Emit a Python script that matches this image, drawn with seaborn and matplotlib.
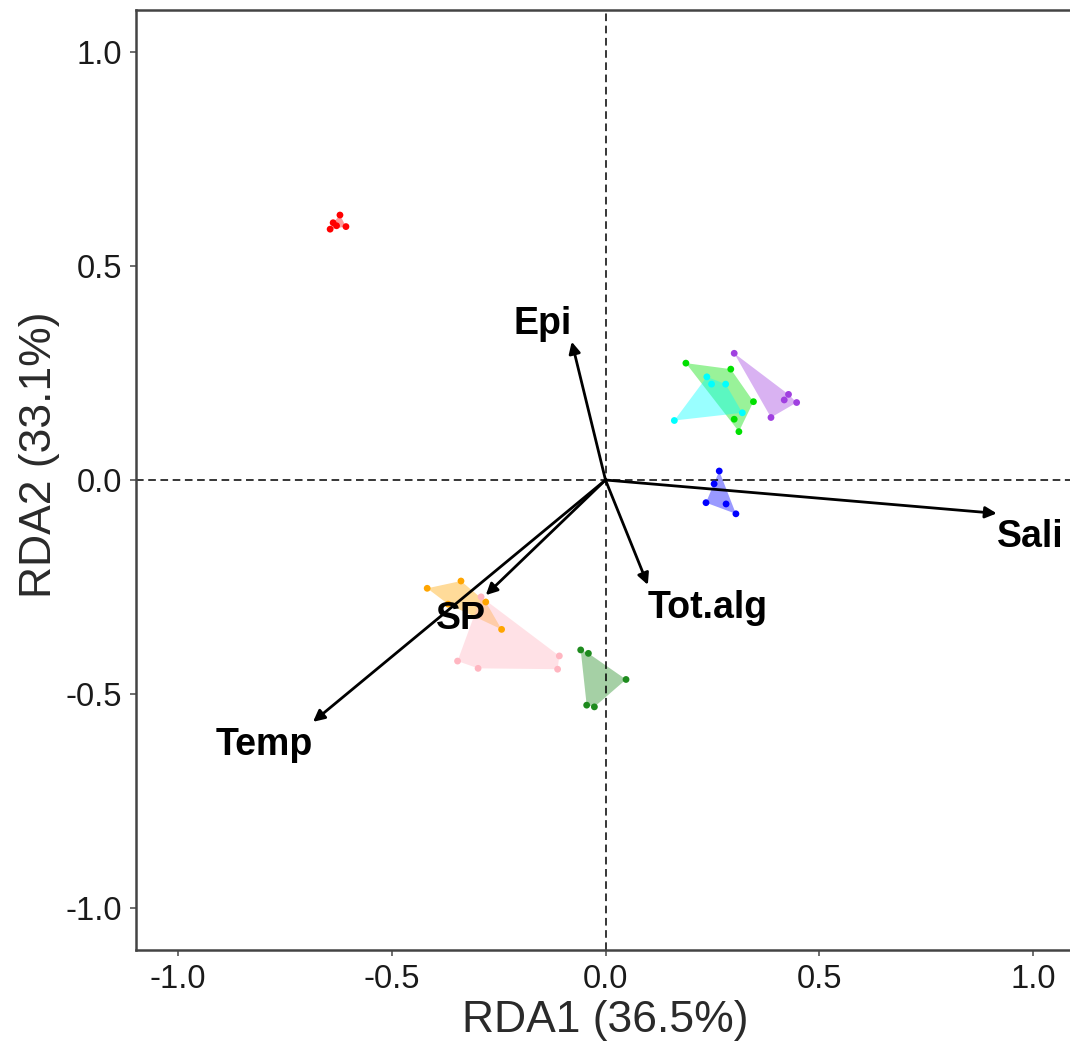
import numpy as np
import pandas as pd
import matplotlib
matplotlib.use("Agg")
import matplotlib.pyplot as plt
import seaborn as sns

# Site scores on the first two RDA axes, one list per sampling group
red_x = [-0.621, -0.637, -0.629, -0.644, -0.607]
red_y = [0.619, 0.601, 0.594, 0.586, 0.592]
lime_x = [0.188, 0.293, 0.346, 0.301, 0.312]
lime_y = [0.273, 0.259, 0.183, 0.142, 0.113]
cyan_x = [0.237, 0.248, 0.281, 0.320, 0.161]
cyan_y = [0.241, 0.224, 0.224, 0.157, 0.139]
purple_x = [0.301, 0.428, 0.418, 0.447, 0.387]
purple_y = [0.296, 0.200, 0.187, 0.181, 0.146]
blue_x = [0.266, 0.254, 0.235, 0.282, 0.305]
blue_y = [0.021, -0.009, -0.053, -0.056, -0.079]
orange_x = [-0.417, -0.338, -0.368, -0.280, -0.243]
orange_y = [-0.253, -0.236, -0.290, -0.285, -0.349]
pink_x = [-0.291, -0.346, -0.298, -0.112, -0.108]
pink_y = [-0.273, -0.423, -0.440, -0.442, -0.411]
dkgreen_x = [-0.058, -0.040, 0.048, -0.044, -0.026]
dkgreen_y = [-0.397, -0.405, -0.466, -0.526, -0.530]

groups = ["A", "B", "C", "D", "E", "F", "G", "H"]
group_colors = ["#FF0000", "#00E000", "#00FFFF", "#A040E0",
                "#0000FF", "#FFA500", "#FFB6C1", "#1E8B1E"]

# Environmental vectors (biplot scores)
env_names = ["Epi", "Sali", "Tot.alg", "SP", "Temp"]
env_x = [-0.079, 0.915, 0.099, -0.280, -0.684]
env_y = [0.323, -0.078, -0.245, -0.269, -0.565]

xlab = "RDA1 (36.5%)"
ylab = "RDA2 (33.1%)"
ticks = [-1.0, -0.5, 0.0, 0.5, 1.0]
tick_labels = ["-1.0", "-0.5", "0.0", "0.5", "1.0"]

xs = [red_x, lime_x, cyan_x, purple_x, blue_x, orange_x, pink_x, dkgreen_x]
ys = [red_y, lime_y, cyan_y, purple_y, blue_y, orange_y, pink_y, dkgreen_y]
sites = pd.concat(
    [pd.DataFrame({"RDA1": x, "RDA2": y, "group": g}) for g, x, y in zip(groups, xs, ys)],
    ignore_index=True,
)


def convex_hull(pts):
    pts = sorted(set(map(tuple, pts)))
    if len(pts) < 3:
        return pts

    def cross(o, a, b):
        return (a[0] - o[0]) * (b[1] - o[1]) - (a[1] - o[1]) * (b[0] - o[0])

    lower, upper = [], []
    for p in pts:
        while len(lower) >= 2 and cross(lower[-2], lower[-1], p) <= 0:
            lower.pop()
        lower.append(p)
    for p in reversed(pts):
        while len(upper) >= 2 and cross(upper[-2], upper[-1], p) <= 0:
            upper.pop()
        upper.append(p)
    return lower[:-1] + upper[:-1]


sns.set_style("white")
plt.rcParams["font.family"] = ["Liberation Sans", "DejaVu Sans"]
plt.rcParams["axes.unicode_minus"] = False

fig = plt.figure(figsize=(10.70, 10.48), dpi=100)
ax = fig.add_axes([136 / 1070, 98 / 1048, 939 / 1070, 940 / 1048])

# Group hulls
for g, c in zip(groups, group_colors):
    sub = sites[sites["group"] == g]
    hull = convex_hull(sub[["RDA1", "RDA2"]].values)
    hx, hy = zip(*hull)
    ax.fill(hx, hy, color=c, alpha=0.4, lw=0, zorder=1)

# Reference lines through the origin
ax.axhline(0, color="black", lw=1.1, ls=(0, (5, 3)), zorder=2)
ax.axvline(0, color="black", lw=1.1, ls=(0, (5, 3)), zorder=2)

sns.scatterplot(data=sites, x="RDA1", y="RDA2", hue="group", hue_order=groups,
                palette=group_colors, s=24, linewidth=0, legend=False, ax=ax, zorder=3)

# Environmental arrows and labels
for name, ex, ey in zip(env_names, env_x, env_y):
    ax.annotate("", xy=(ex, ey), xytext=(0, 0),
                arrowprops=dict(arrowstyle="-|>", color="black", lw=2,
                                mutation_scale=17, shrinkA=0, shrinkB=0),
                zorder=4)
    ha = "right" if ex < 0 else "left"
    va = "bottom" if ey > 0 else "top"
    dy = 0 if ey > 0 else -4
    ax.annotate(name, xy=(ex, ey), xytext=(0, dy), textcoords="offset points",
                ha=ha, va=va, fontsize=27, fontweight="bold",
                color="black", zorder=5)

ax.set_xlim(-1.098, 1.098)
ax.set_ylim(-1.098, 1.098)
ax.set_xticks(ticks)
ax.set_xticklabels(tick_labels)
ax.set_yticks(ticks)
ax.set_yticklabels(tick_labels)
ax.tick_params(axis="both", which="both", length=4, width=1.2, color="#555555",
               labelsize=23.5, labelcolor="#1a1a1a", pad=6, bottom=True, left=True)
ax.set_xlabel(xlab, fontsize=32, color="#2a2a2a", labelpad=4)
ax.set_ylabel(ylab, fontsize=32, color="#2a2a2a", labelpad=10)
ax.yaxis.set_label_coords(-0.081, 0.527)

for side in ["top", "right", "bottom", "left"]:
    ax.spines[side].set_visible(True)
    ax.spines[side].set_color("#444444")
    ax.spines[side].set_linewidth(1.8)

fig.savefig("out.png", dpi=100)
